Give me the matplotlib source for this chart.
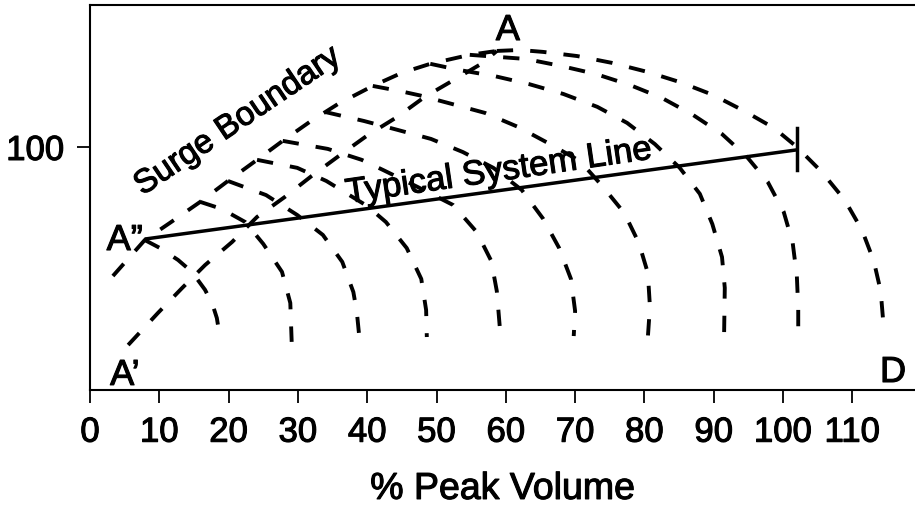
import matplotlib
matplotlib.use("Agg")
import matplotlib.pyplot as plt
import matplotlib.patheffects as pe

plt.rcParams['font.family'] = ['Liberation Sans', 'DejaVu Sans']

# x ticks (% peak volume)
x_ticks = [0, 10, 20, 30, 40, 50, 60, 70, 80, 90, 100, 110]
y_ticks = [100]

# surge boundary A" -> A
surge_x = [3.3, 7.9, 11.5, 15.9, 19.9, 24.1, 27.8, 31.7, 35.8, 40.8, 45.0, 49.1, 54.8, 58.7]
surge_y = [46.9, 61.7, 68.7, 77.4, 86.0, 94.7, 102.5, 110.3, 117.7, 125.1, 130.5, 134.2, 137.9, 139.5]

# line A' -> A
aprime_x = [5.5, 9.8, 13.3, 16.6, 20.5, 24.1, 28.1, 32.0, 36.1, 40.1, 44.3, 48.3, 53.0, 56.7, 58.7]
aprime_y = [18.5, 31.7, 42.0, 51.4, 60.9, 71.2, 79.4, 88.1, 96.7, 104.9, 112.3, 120.6, 128.4, 134.6, 139.5]

# fan curves, inner to outer
arc1_x = [7.9, 10.1, 12.7, 14.7, 16.6, 17.7, 18.3, 18.6]
arc1_y = [61.7, 58.4, 53.5, 48.6, 41.2, 35.0, 29.6, 24.3]

arc2_x = [15.9, 19.0, 22.4, 25.0, 27.7, 28.9, 29.1]
arc2_y = [77.4, 74.5, 69.1, 60.1, 48.6, 35.8, 19.8]

arc3_x = [19.9, 25.4, 29.9, 33.6, 36.4, 38.0, 38.5, 38.8]
arc3_y = [86.0, 80.2, 72.0, 63.8, 52.7, 40.3, 32.1, 23.5]

arc4_x = [24.1, 29.9, 34.1, 40.0, 42.7, 45.7, 47.8, 48.5, 48.6]
arc4_y = [94.7, 91.4, 86.0, 75.7, 69.1, 58.4, 45.7, 32.9, 21.8]

arc5_x = [27.8, 34.3, 39.2, 42.3, 47.3, 52.4, 55.8, 57.9, 58.7, 59.2]
arc5_y = [102.5, 99.2, 94.7, 90.5, 83.5, 76.1, 65.0, 53.1, 40.7, 23.5]

arc6_x = [33.9, 39.5, 44.4, 49.2, 53.8, 58.2, 62.3, 65.4, 67.7, 69.4, 70.0, 69.8]
arc6_y = [114.4, 110.7, 107.0, 103.3, 97.9, 91.4, 82.3, 70.4, 58.4, 45.7, 32.5, 22.2]

arc7_x = [40.8, 44.7, 47.6, 52.2, 57.0, 61.8, 66.1, 70.7, 73.9, 77.1, 79.2, 80.5, 80.8, 80.5]
arc7_y = [125.1, 123.0, 121.2, 117.7, 114.0, 108.2, 101.6, 94.2, 84.0, 72.8, 60.5, 48.1, 34.2, 21.8]

arc8_x = [49.1, 53.2, 58.3, 63.3, 68.3, 73.2, 77.5, 81.5, 85.1, 88.0, 89.8, 91.2, 91.6, 91.5]
arc8_y = [134.2, 131.7, 129.2, 125.9, 121.8, 116.5, 109.9, 101.2, 91.4, 80.7, 68.3, 54.7, 42.0, 22.6]

arc9_x = [54.8, 62.9, 68.0, 73.0, 77.9, 82.5, 87.0, 91.2, 94.8, 97.8, 100.1, 101.4, 102.0, 102.2, 102.2]
arc9_y = [137.9, 136.2, 133.3, 130.0, 125.5, 120.2, 113.2, 105.3, 95.9, 85.6, 73.3, 60.5, 46.9, 33.3, 22.2]

# outer curve A -> D
arcD_x = [58.7, 62.0, 65.4, 70.3, 75.3, 80.4, 85.1, 89.9, 94.4, 98.7, 102.0, 105.6, 108.9, 111.4, 113.1, 114.1, 114.6]
arcD_y = [139.5, 139.9, 139.1, 137.4, 134.6, 130.9, 126.7, 121.4, 114.8, 107.8, 100.0, 89.7, 78.2, 65.8, 53.1, 40.7, 23.5]

# typical system line
system_x = [7.9, 102.0]
system_y = [62.1, 98.8]
system_tick_y = [90.5, 107.8]

fig = plt.figure(figsize=(9.15, 5.16), dpi=100)
ax = fig.add_axes([0.0984, 0.2442, 0.9016, 0.7461])

dashed = dict(color='black', lw=2.8, dashes=(4.2, 4.4), dash_capstyle='butt')
curves = [(surge_x, surge_y), (aprime_x, aprime_y),
          (arc1_x, arc1_y), (arc2_x, arc2_y), (arc3_x, arc3_y), (arc4_x, arc4_y),
          (arc5_x, arc5_y), (arc6_x, arc6_y), (arc7_x, arc7_y), (arc8_x, arc8_y),
          (arc9_x, arc9_y), (arcD_x, arcD_y)]
for cx, cy in curves:
    ax.plot(cx, cy, **dashed)

ax.plot(system_x, system_y, color='black', lw=2.5, solid_capstyle='butt')
ax.plot([system_x[-1], system_x[-1]], system_tick_y, color='black', lw=2.5)

# slightly heavier text, like the scanned original
heavy = [pe.withStroke(linewidth=0.8, foreground='black')]

ax.text(21.3, 110.5, 'Surge Boundary', fontsize=24, rotation=34,
        rotation_mode='anchor', ha='center', va='center', path_effects=heavy)
ax.text(59.0, 90.0, 'Typical System Line', fontsize=25, rotation=8.3,
        rotation_mode='anchor', ha='center', va='center', path_effects=heavy)
ax.text(60.3, 144.0, 'A', fontsize=26, ha='center', va='baseline', path_effects=heavy)
ax.text(2.4, 57.6, 'A\u201d', fontsize=26, ha='left', va='baseline', path_effects=heavy)
ax.text(2.9, 2.1, 'A\u2019', fontsize=26, ha='left', va='baseline', path_effects=heavy)
ax.text(114.0, 3.3, 'D', fontsize=26, ha='left', va='baseline', path_effects=heavy)

ax.set_xlim(0, 119.05)
ax.set_ylim(0, 158.4)
ax.set_xticks(x_ticks)
ax.set_yticks(y_ticks)
ax.tick_params(axis='both', labelsize=25, length=9.5, width=1.3, pad=9, direction='out')
for lab in ax.get_xticklabels() + ax.get_yticklabels():
    lab.set_path_effects(heavy)
ax.set_xlabel('% Peak Volume', fontsize=27, labelpad=16, path_effects=heavy)

ax.spines['right'].set_visible(False)
for s in ['left', 'bottom', 'top']:
    ax.spines[s].set_linewidth(1.5)

fig.savefig('out.png', dpi=100)
